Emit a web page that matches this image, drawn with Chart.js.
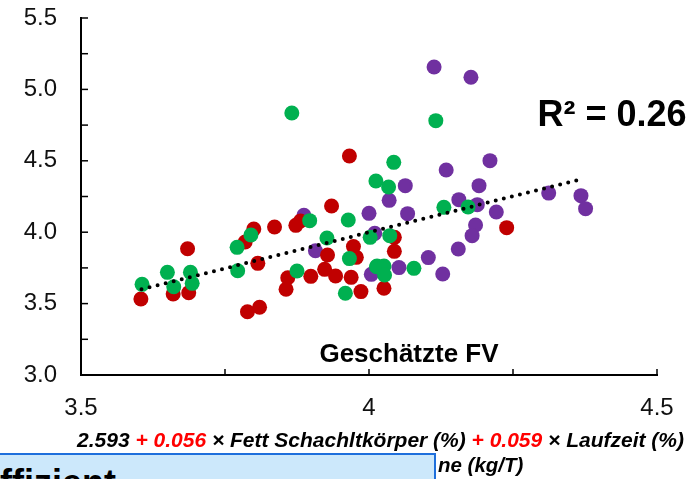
<!DOCTYPE html>
<html>
<head>
<meta charset="utf-8">
<script src="https://cdn.jsdelivr.net/npm/chart.js@4"></script>
<style>
  body { margin: 0; background: #fff; }
  #wrap { position: relative; width: 699px; height: 479px; overflow: hidden; font-family: 'Liberation Sans', Arial, sans-serif; }
  #chart { position: absolute; left: 0; top: 0; }
  .txt { position: absolute; white-space: nowrap; line-height: 1; color: #000; }
  #title { left: 409px; top: 340px; transform: translateX(-50%); font-size: 26px; font-weight: bold; }
  #r2 { left: 612px; top: 96px; transform: translateX(-50%); font-size: 36px; font-weight: bold; }
  #formula { right: 15px; top: 429px; font-size: 21px; font-weight: bold; font-style: italic; }
  #formula2 { left: 438px; top: 455px; font-size: 20.5px; font-weight: bold; font-style: italic; }
  .red { color: #ff0000; }
  #box { position: absolute; left: -3px; top: 453px; width: 439px; height: 60px; background: #cce8fb; border: 2.5px solid #1e6fdc; box-sizing: border-box; }
  #boxText { position: absolute; left: 0px; top: 465px; font-size: 36px; font-weight: bold; }
</style>
</head>
<body>
<div id="wrap">
  <canvas id="chart" width="699" height="479"></canvas>
  <div class="txt" id="title">Geschätzte FV</div>
  <div class="txt" id="r2">R² = 0.26</div>
  <div class="txt" id="formula">2.593 <span class="red">+ 0.056</span> × Fett Schachltkörper (%) <span class="red">+ 0.059</span> × Laufzeit (%)</div>
  <div class="txt" id="formula2">ne (kg/T)</div>
  <div id="box"></div>
  <div class="txt" id="boxText">ffizient</div>
</div>
<script>
// values
const redX = [3.604, 3.660, 3.685, 3.687, 3.785, 3.800, 3.807, 3.789, 3.810, 3.836, 3.873, 3.881, 3.859, 3.856, 3.899, 3.923, 3.928, 3.935, 3.942, 3.966, 3.973, 3.978, 3.969, 3.986, 4.044, 4.044, 4.026, 4.239];
const redY = [3.532, 3.567, 3.884, 3.576, 3.931, 4.022, 3.782, 3.443, 3.474, 4.036, 4.048, 4.078, 3.681, 3.600, 3.691, 3.740, 3.840, 4.183, 3.693, 4.534, 3.899, 3.824, 3.684, 3.584, 3.964, 3.866, 3.607, 4.032];

const greenX = [3.606, 3.650, 3.661, 3.690, 3.693, 3.771, 3.795, 3.772, 3.897, 3.875, 3.927, 3.964, 3.966, 3.959, 4.012, 4.002, 4.013, 4.043, 4.034, 4.036, 4.014, 4.026, 4.027, 4.078, 4.116, 3.866, 4.130, 4.172];
const greenY = [3.635, 3.719, 3.618, 3.719, 3.642, 3.894, 3.980, 3.730, 4.081, 3.728, 3.959, 4.085, 3.815, 3.572, 4.359, 3.964, 3.758, 4.489, 4.317, 3.976, 3.763, 3.763, 3.700, 3.747, 4.781, 4.835, 4.174, 4.176];

const purpleX = [3.887, 3.907, 4.000, 4.010, 4.004, 4.063, 4.035, 4.067, 4.103, 4.128, 4.052, 4.134, 4.210, 4.191, 4.156, 4.188, 4.221, 4.185, 4.179, 4.155, 4.312, 4.368, 4.376, 4.113, 4.177];
const purpleY = [4.118, 3.870, 4.132, 3.992, 3.705, 4.326, 4.223, 4.130, 3.822, 3.707, 3.752, 4.436, 4.501, 4.326, 4.228, 4.193, 4.141, 4.050, 3.976, 3.882, 4.274, 4.256, 4.165, 5.157, 5.085];

// trend line end points
const trendX = [3.605, 4.372];
const trendY = [3.600, 4.375];

const xMin = 3.5, xMax = 4.5;
const yMin = 3.0, yMax = 5.5;
const tickStep = 0.25;

function toPoints(xs, ys) {
    return xs.map((x, i) => ({ x: x, y: ys[i] }));
}

function isHalf(v) {
    return Math.abs(v * 2 - Math.round(v * 2)) < 1e-6;
}

// small tick marks pointing into the plot
const innerTicks = {
    id: 'innerTicks',
    beforeDatasetsDraw(chart) {
        const { ctx, scales: { x, y } } = chart;
        ctx.save();
        ctx.strokeStyle = '#000';
        ctx.lineWidth = 1.5;
        y.ticks.forEach(t => {
            const py = y.getPixelForValue(t.value);
            ctx.beginPath();
            ctx.moveTo(y.right, py);
            ctx.lineTo(y.right + 7, py);
            ctx.stroke();
        });
        x.ticks.forEach(t => {
            const px = x.getPixelForValue(t.value);
            ctx.beginPath();
            ctx.moveTo(px, x.top);
            ctx.lineTo(px, x.top - 6);
            ctx.stroke();
        });
        ctx.restore();
    }
};

Chart.defaults.font.family = "'Liberation Sans', Arial, sans-serif";
Chart.defaults.color = '#111';

const tickFont = { size: 24 };

new Chart(document.getElementById('chart'), {
    type: 'scatter',
    data: {
        datasets: [
            {
                type: 'line',
                data: toPoints(trendX, trendY),
                borderColor: '#000',
                borderWidth: 4,
                borderDash: [0, 8.3],
                borderCapStyle: 'round',
                pointRadius: 0,
                fill: false,
                order: 0
            },
            {
                data: toPoints(greenX, greenY),
                backgroundColor: '#00b050',
                pointRadius: 7.5,
                pointBorderWidth: 0,
                order: 1
            },
            {
                data: toPoints(redX, redY),
                backgroundColor: '#c00000',
                pointRadius: 7.5,
                pointBorderWidth: 0,
                order: 2
            },
            {
                data: toPoints(purpleX, purpleY),
                backgroundColor: '#7030a0',
                pointRadius: 7.5,
                pointBorderWidth: 0,
                order: 3
            }
        ]
    },
    options: {
        responsive: false,
        animation: false,
        devicePixelRatio: 1,
        layout: { autoPadding: false, padding: { left: 0, top: 18, right: 42, bottom: 44 } },
        plugins: { legend: { display: false }, tooltip: { enabled: false } },
        scales: {
            x: {
                type: 'linear',
                min: xMin,
                max: xMax,
                afterFit: s => { s.height = 60; s.paddingLeft = 0; s.paddingRight = 0; },
                border: { display: true, color: '#000', width: 2 },
                grid: { display: false, drawTicks: false },
                ticks: {
                    stepSize: tickStep,
                    autoSkip: false,
                    maxRotation: 0,
                    padding: 19,
                    font: tickFont,
                    callback: v => isHalf(v) ? String(Math.round(v * 10) / 10) : ''
                }
            },
            y: {
                type: 'linear',
                min: yMin,
                max: yMax,
                afterFit: s => { s.width = 81; s.paddingTop = 0; s.paddingBottom = 0; },
                border: { display: true, color: '#000', width: 2 },
                grid: { display: false, drawTicks: false },
                ticks: {
                    stepSize: tickStep,
                    autoSkip: false,
                    padding: 24,
                    font: tickFont,
                    callback: v => isHalf(v) ? v.toFixed(1) : ''
                }
            }
        }
    },
    plugins: [innerTicks]
});
</script>
</body>
</html>
